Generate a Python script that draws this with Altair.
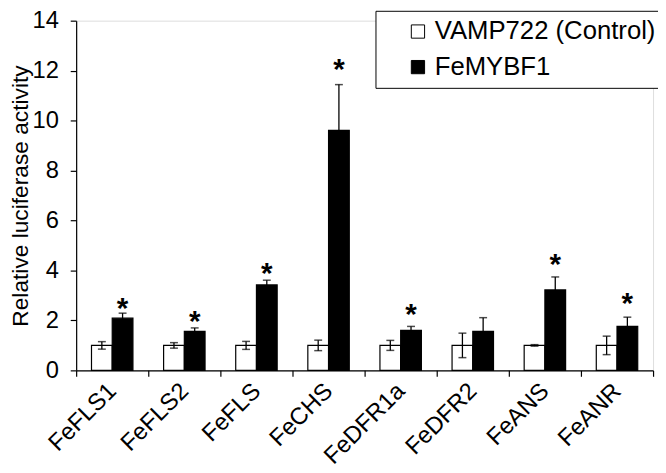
import altair as alt
import pandas as pd

genes = ["FeFLS1", "FeFLS2", "FeFLS", "FeCHS", "FeDFR1a", "FeDFR2", "FeANS", "FeANR"]
groups = ["VAMP722 (Control)", "FeMYBF1"]

control = [1.0, 1.0, 1.0, 1.0, 1.0, 1.0, 1.0, 1.0]
control_err = [0.15, 0.11, 0.16, 0.21, 0.2, 0.49, 0.03, 0.37]
myb = [2.09, 1.56, 3.42, 9.61, 1.60, 1.56, 3.22, 1.76]
myb_err = [0.2, 0.14, 0.19, 1.83, 0.16, 0.55, 0.52, 0.37]

# significance asterisks (height in data units, None = no star)
star_y = [2.75, 2.23, 4.17, 12.35, 2.51, None, 4.53, 2.96]

FONT = "Liberation Sans"

rows = []
for i, g in enumerate(genes):
    rows.append({"gene": g, "group": groups[0], "value": control[i],
                 "lo": control[i] - control_err[i], "hi": control[i] + control_err[i]})
    rows.append({"gene": g, "group": groups[1], "value": myb[i],
                 "lo": myb[i] - myb_err[i], "hi": myb[i] + myb_err[i]})
df = pd.DataFrame(rows)

stars = pd.DataFrame([{"gene": g, "group": groups[1], "sy": s}
                      for g, s in zip(genes, star_y) if s is not None])

x = alt.X("gene:N", sort=genes,
          scale=alt.Scale(domain=genes, paddingInner=0, paddingOuter=0),
          axis=alt.Axis(title=None, labelAngle=-45, labelAlign="right",
                        labelBaseline="middle", labelFontSize=24, labelPadding=11,
                        labelColor="black", labelFont=FONT,
                        tickBand="extent", tickSize=6, tickColor="black",
                        domainColor="black", tickWidth=1.2, domainWidth=1.2))
xo = alt.XOffset("group:N", sort=groups,
                 scale=alt.Scale(domain=groups, paddingInner=0, paddingOuter=0.74))
yscale = alt.Scale(domain=[0, 14], nice=False)

bars = alt.Chart(df).mark_bar(stroke="black", strokeWidth=1.2).encode(
    x=x, xOffset=xo,
    y=alt.Y("value:Q", scale=yscale,
            axis=alt.Axis(title="Relative luciferase activity",
                          values=[0, 2, 4, 6, 8, 10, 12, 14], grid=False,
                          tickSize=6, tickColor="black", domainColor="black",
                          tickWidth=1.2, domainWidth=1.2,
                          labelFontSize=24, labelColor="black", labelFont=FONT,
                          labelPadding=12, titleFontSize=23, titleFont=FONT,
                          titleFontWeight="normal", titleColor="black",
                          titlePadding=0)),
    color=alt.Color("group:N", scale=alt.Scale(domain=groups, range=["white", "black"]),
                    legend=alt.Legend(title=None, orient="none", legendX=303, legendY=-10,
                                      strokeColor="black", fillColor="white",
                                      padding=8, symbolType="square", symbolSize=180,
                                      symbolStrokeColor="black", symbolStrokeWidth=1,
                                      symbolOffset=22, labelFontSize=26, labelFont=FONT,
                                      labelColor="black", labelOffset=4, rowPadding=10,
                                      labelLimit=400)),
)

err = alt.Chart(df).mark_rule(color="black", strokeWidth=1.3).encode(
    x=x, xOffset=xo, y=alt.Y("lo:Q", scale=yscale), y2="hi:Q")
cap_hi = alt.Chart(df).mark_tick(color="black", size=8, thickness=1.5).encode(
    x=x, xOffset=xo, y=alt.Y("hi:Q", scale=yscale))
cap_lo = alt.Chart(df).mark_tick(color="black", size=8, thickness=1.5).encode(
    x=x, xOffset=xo, y=alt.Y("lo:Q", scale=yscale))

star = alt.Chart(stars).mark_text(text="*", fontSize=30, fontWeight="bold",
                                  font=FONT, color="black", baseline="middle", dy=8).encode(
    x=x, xOffset=xo, y=alt.Y("sy:Q", scale=yscale))

chart = alt.layer(bars, err, cap_hi, cap_lo, star).properties(
    width=584, height=354,
    padding={"left": 69, "top": 10, "right": 5, "bottom": 96},
    autosize=alt.AutoSizeParams(type="none"),
).configure_view(stroke=None).configure(font=FONT)

chart.save("out.html", embed_options={"renderer": "svg", "actions": False})
